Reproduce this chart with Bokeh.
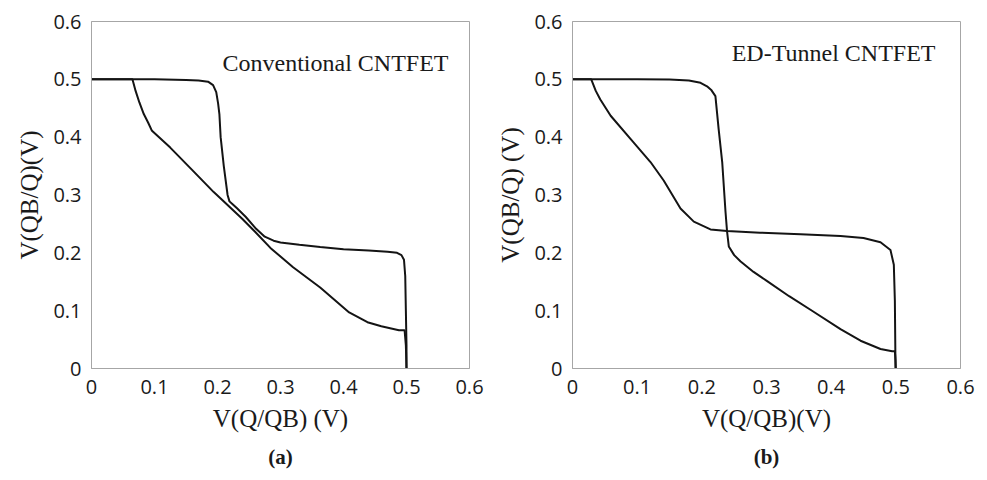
from bokeh.plotting import figure
from bokeh.layouts import row
from bokeh.models import FixedTicker, Label, Title
from bokeh.embed import file_html
from bokeh.resources import INLINE

# ---------------- data ----------------
tick_values = [0, 0.1, 0.2, 0.3, 0.4, 0.5, 0.6]
tick_labels = ["0", "0.1", "0.2", "0.3", "0.4", "0.5", "0.6"]

# (a) Conventional CNTFET
conv_a_x = [0, 0.05, 0.10, 0.15, 0.17, 0.185, 0.193, 0.198, 0.201, 0.203, 0.205, 0.21,
            0.216, 0.219, 0.224, 0.231, 0.245, 0.26, 0.275, 0.289, 0.30, 0.33, 0.363,
            0.40, 0.44, 0.47, 0.485, 0.492, 0.496, 0.498, 0.499, 0.5, 0.5]
conv_a_y = [0.5, 0.5, 0.5, 0.499, 0.498, 0.496, 0.49, 0.478, 0.458, 0.44, 0.40, 0.35,
            0.30, 0.289, 0.284, 0.277, 0.262, 0.243, 0.228, 0.221, 0.218, 0.214, 0.21,
            0.206, 0.204, 0.202, 0.2, 0.196, 0.188, 0.16, 0.1, 0.04, 0]
conv_b_x = [0, 0.03, 0.065, 0.07, 0.076, 0.083, 0.09, 0.096, 0.125, 0.16, 0.194, 0.205,
            0.24, 0.26, 0.284, 0.32, 0.363, 0.409, 0.438, 0.46, 0.488, 0.497, 0.499, 0.5]
conv_b_y = [0.5, 0.5, 0.5, 0.48, 0.46, 0.44, 0.425, 0.411, 0.382, 0.343, 0.305, 0.294,
            0.258, 0.236, 0.2085, 0.175, 0.14, 0.097, 0.08, 0.073, 0.066, 0.066, 0.04, 0]

# (b) ED-Tunnel CNTFET
tun_a_x = [0, 0.05, 0.10, 0.15, 0.18, 0.198, 0.208, 0.215, 0.221, 0.226, 0.2315, 0.2366,
           0.239, 0.2417, 0.25, 0.26, 0.28, 0.301, 0.335, 0.371, 0.4144, 0.4454, 0.4763,
           0.4943, 0.4985, 0.4995, 0.5]
tun_a_y = [0.5, 0.5, 0.5, 0.4995, 0.498, 0.494, 0.488, 0.481, 0.471, 0.414, 0.357, 0.271,
           0.237, 0.211, 0.196, 0.185, 0.167, 0.151, 0.125, 0.0994, 0.068, 0.048, 0.0337,
           0.0297, 0.0297, 0.015, 0]
tun_b_x = [0, 0.015, 0.029, 0.036, 0.043, 0.059, 0.0897, 0.1206, 0.141, 0.167, 0.1876,
           0.2134, 0.239, 0.29, 0.3526, 0.4144, 0.45, 0.4763, 0.4917, 0.4969, 0.4985, 0.4995]
tun_b_y = [0.5, 0.5, 0.5, 0.48, 0.465, 0.437, 0.397, 0.357, 0.325, 0.2766, 0.254,
           0.2405, 0.2377, 0.2349, 0.232, 0.229, 0.2255, 0.2183, 0.205, 0.1794, 0.1166, 0]

GRAY = "#a6a6a6"
INK = "#141414"
SERIF = "Liberation Serif"


def make_panel(w, bl, br, bt, bb, xlabel, ylabel, series, note, note_x, note_y, cap):
    p = figure(width=w, height=480, x_range=(0, 0.6), y_range=(0, 0.6),
               output_backend="svg", toolbar_location=None,
               min_border_left=bl, min_border_right=br, min_border_top=bt, min_border_bottom=bb)
    p.grid.visible = False
    p.outline_line_color = GRAY
    p.outline_line_width = 1
    overrides = {v: t for v, t in zip(tick_values, tick_labels)}
    for ax in (p.xaxis[0], p.yaxis[0]):
        ax.ticker = FixedTicker(ticks=tick_values)
        ax.major_label_overrides = overrides
        ax.axis_line_color = GRAY
        ax.major_tick_line_color = None
        ax.minor_tick_line_color = None
        ax.major_tick_out = 0
        ax.major_tick_in = 0
        ax.minor_tick_out = 0
        ax.major_label_text_font = "Open Sans"
        ax.major_label_text_font_size = "20px"
        ax.major_label_text_color = "#1a1a1a"
        ax.axis_label_text_font = SERIF
        ax.axis_label_text_font_size = "25px"
        ax.axis_label_text_font_style = "normal"
        ax.axis_label_text_color = "#1a1a1a"
    p.xaxis.axis_label = xlabel
    p.yaxis.axis_label = ylabel
    p.xaxis.major_label_standoff = 11
    p.xaxis.axis_label_standoff = 8
    p.yaxis.major_label_standoff = 10
    p.yaxis.axis_label_standoff = 7
    for xs, ys in series:
        p.line(xs, ys, line_color=INK, line_width=2)
    p.add_layout(Label(x=note_x, y=note_y, text=note, text_align="right",
                       text_baseline="alphabetic", text_font=SERIF,
                       text_font_size="24px", text_color="#1a1a1a"))
    p.add_layout(Title(text=cap, align="center", text_font=SERIF, text_font_style="bold",
                       text_font_size="21px", text_color="#1a1a1a", standoff=17), "below")
    return p


pa = make_panel(490, 91, 21, 21, 108, "V(Q/QB) (V)", "V(QB/Q)(V)",
                [(conv_a_x, conv_a_y), (conv_b_x, conv_b_y)],
                "Conventional CNTFET", 0.5667, 0.528, "(a)")
pb = make_panel(497, 82, 27, 18, 112, "V(Q/QB)(V)", "V(QB/Q) (V)",
                [(tun_a_x, tun_a_y), (tun_b_x, tun_b_y)],
                "ED-Tunnel CNTFET", 0.5613, 0.545, "(b)")

layout = row(pa, pb)
open("out.html", "w").write(file_html(layout, INLINE))
